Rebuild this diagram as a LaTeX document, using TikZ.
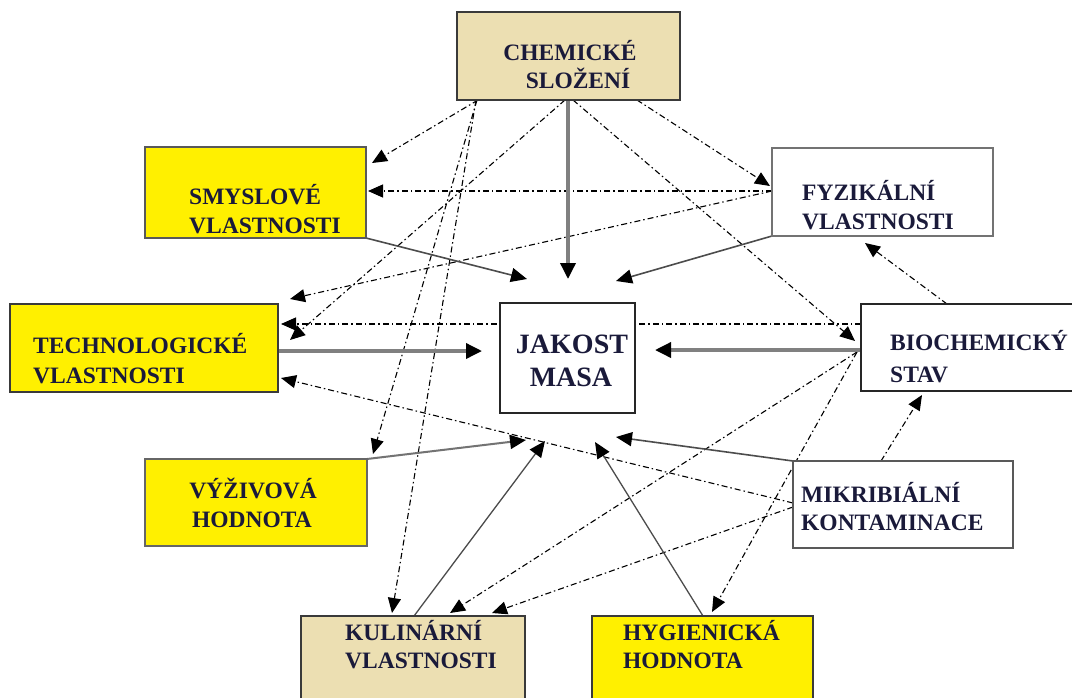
\documentclass[tikz,border=0pt]{standalone}
\usepackage{fontspec}
\setmainfont{Liberation Serif}
\usetikzlibrary{arrows.meta}
\definecolor{boxyellow}{HTML}{FFF000}
\definecolor{boxtan}{HTML}{ECDFB2}
\definecolor{txt}{HTML}{1A1A3A}
\definecolor{boxline}{HTML}{3A3A3A}
\pgfdeclarelayer{bg}
\pgfdeclarelayer{paper}
\pgfsetlayers{paper,bg,main}
\begin{document}
\begin{tikzpicture}[x=1pt,y=-1pt,
  box/.style={draw=boxline, line width=1.5pt, inner sep=0pt, outer sep=0pt, anchor=north west},
  lbl/.style={font=\fontsize{23.5}{28}\selectfont\bfseries, text=txt, inner sep=0pt, anchor=base west},
  lblc/.style={lbl, anchor=base},
  big/.style={font=\fontsize{28}{32}\selectfont\bfseries, text=txt, inner sep=0pt, anchor=base},
  dd/.style={draw=black, line width=1.1pt, dash pattern=on 6pt off 3pt on 1.5pt off 3pt,
    -{Triangle[length=15pt,width=13pt,color=black]}},
  thickgray/.style={draw=gray, line width=3.5pt, -{Triangle[length=16pt,width=15pt,color=black]}},
  darkline/.style={draw=black!70, line width=1.6pt, -{Triangle[length=16pt,width=14pt,color=black]}}]
\begin{pgfonlayer}{paper}
\fill[white] (0,0) rectangle (1072,697);
\end{pgfonlayer}
\useasboundingbox (0,0) rectangle (1072,697);

% boxes
\node[box, fill=boxtan, minimum width=223pt, minimum height=88pt] (chem) at (457,12) {};
\node[box, fill=boxyellow, draw=black!65, minimum width=221pt, minimum height=91pt] (smys) at (145,147) {};
\node[box, fill=boxyellow, minimum width=268pt, minimum height=88pt] (tech) at (10,304) {};
\node[box, fill=white, draw=black!85, minimum width=135pt, minimum height=110pt] (jak) at (500,303) {};
\node[box, fill=white, draw=black!55, minimum width=221pt, minimum height=88pt] (fyz) at (772,148) {};
\node[box, fill=white, draw=black!85, minimum width=224pt, minimum height=87pt] (bio) at (861,304) {};
\node[box, fill=boxyellow, draw=black!60, minimum width=222pt, minimum height=87pt] (vyz) at (145,459) {};
\node[box, fill=white, draw=black!65, minimum width=220pt, minimum height=87pt] (mik) at (793,461) {};
\node[box, fill=boxtan, minimum width=224pt, minimum height=95pt] (kul) at (301,616) {};
\node[box, fill=boxyellow, minimum width=221pt, minimum height=95pt] (hyg) at (592,616) {};

% texts
\node[lblc] (chemA) at (570,60) {CHEMICKÉ};
\node[lblc] (chemB) at (578,88) {SLOŽENÍ};
\node[lbl] (smysA) at (189,204) {SMYSLOVÉ};
\node[lbl] (smysB) at (189,233) {VLASTNOSTI};
\node[lbl] (techA) at (33,353) {TECHNOLOGICKÉ};
\node[lbl] (techB) at (33,383) {VLASTNOSTI};
\node[big] (jakA) at (572,353) {JAKOST};
\node[big] (jakB) at (571,386) {MASA};
\node[lbl] (fyzA) at (802,200) {FYZIKÁLNÍ};
\node[lbl] (fyzB) at (802,229) {VLASTNOSTI};
\node[lbl] (bioA) at (890,350) {BIOCHEMICKÝ};
\node[lbl] (bioB) at (890,382) {STAV};
\node[lblc] (vyzA) at (253,498) {VÝŽIVOVÁ};
\node[lblc] (vyzB) at (252,527) {HODNOTA};
\node[lbl] (mikA) at (801,502) {MIKRIBIÁLNÍ};
\node[lbl] (mikB) at (801,530) {KONTAMINACE};
\node[lbl] (kulA) at (345,640) {KULINÁRNÍ};
\node[lbl] (kulB) at (345,668) {VLASTNOSTI};
\node[lbl] (hygA) at (623,640) {HYGIENICKÁ};
\node[lbl] (hygB) at (623,668) {HODNOTA};

% free ends of solid arrows
\coordinate (s1e) at (568,279);
\coordinate (s2e) at (527,279);
\coordinate (s3e) at (616,281);
\coordinate (s4e) at (482,351);
\coordinate (s5e) at (655,350);
\coordinate (s6e) at (526,440);
\coordinate (s7e) at (545,441);
\coordinate (s8e) at (595,442);
\coordinate (s9e) at (616,437);

\begin{pgfonlayer}{bg}
% dash-dot connectors
\draw[dd] ([shift={(21,0)}]chem.south west) -- ([shift={(6,16)}]smys.north east);
\draw[dd] ([shift={(20,0)}]chem.south west) -- ([shift={(6,-5)}]vyz.north east);
\draw[dd] ([shift={(19,0)}]chem.south west) -- ([shift={(91,-3)}]kul.north west);
\draw[dd] ([shift={(108,0)}]chem.south west) -- ([shift={(12,36)}]tech.north east);
\draw[dd] ([shift={(180,0)}]chem.south west) -- ([shift={(-2,38)}]fyz.north west);
\draw[dd] ([shift={(116,0)}]chem.south west) -- ([shift={(-6,37)}]bio.north west);
\draw[dd] ([shift={(0,43)}]fyz.north west) -- ([shift={(2,44)}]smys.north east);
\draw[dd] ([shift={(0,43)}]fyz.north west) -- ([shift={(12,-5)}]tech.north east);
\draw[dd] ([shift={(0,20)}]bio.north west) -- ([shift={(3,20)}]tech.north east);
\draw[dd] ([shift={(86,0)}]bio.north west) -- ([shift={(93,7)}]fyz.south west);
\draw[dd] ([shift={(-4,48)}]bio.north west) -- ([shift={(149,-3)}]kul.north west);
\draw[dd] ([shift={(-4,48)}]bio.north west) -- ([shift={(120,-4)}]hyg.north west);
\draw[dd] ([shift={(88,0)}]mik.north west) -- ([shift={(61,4)}]bio.south west);
\draw[dd] ([shift={(0,42)}]mik.north west) -- ([shift={(3,74)}]tech.north east);
\draw[dd] ([shift={(0,46)}]mik.north west) -- ([shift={(191,-3)}]kul.north west);

% solid connectors
\draw[thickgray] ([shift={(111,0)}]chem.south west) -- (s1e);
\draw[darkline] (smys.south east) -- (s2e);
\draw[darkline] (fyz.south west) -- (s3e);
\draw[thickgray] ([shift={(0,47)}]tech.north east) -- (s4e);
\draw[thickgray] ([shift={(0,46)}]bio.north west) -- (s5e);
\draw[darkline, draw=black!55, line width=2pt] (vyz.north east) -- (s6e);
\draw[darkline, line width=1.3pt] ([shift={(113,0)}]kul.north west) -- (s7e);
\draw[darkline, line width=1.3pt] ([shift={(111,0)}]hyg.north west) -- (s8e);
\draw[darkline] (mik.north west) -- (s9e);
\end{pgfonlayer}
\end{tikzpicture}
\end{document}
